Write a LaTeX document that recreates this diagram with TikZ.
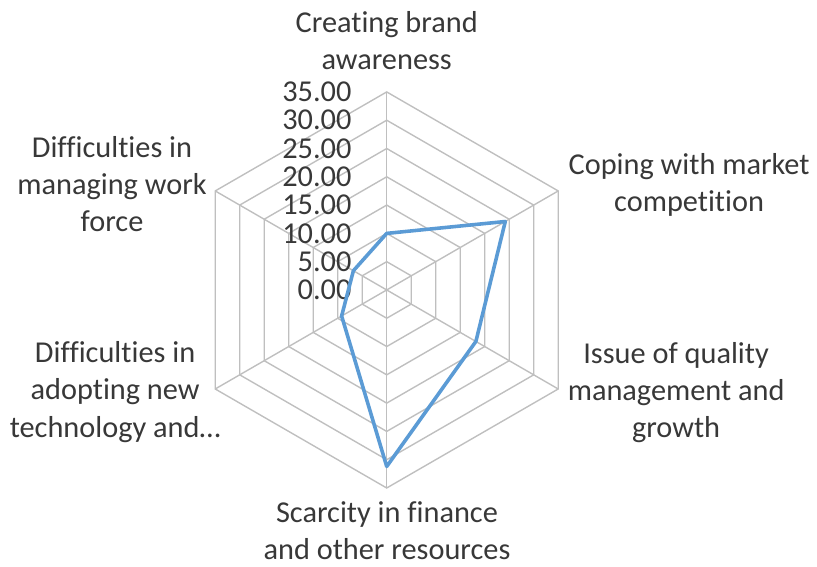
\documentclass[tikz,border=0pt]{standalone}
\usepackage{fontspec}
\setmainfont{Carlito}[Ligatures=NoCommon]
\definecolor{gridgray}{RGB}{191,191,191}
\definecolor{serieblue}{RGB}{91,155,213}
\definecolor{labelgray}{RGB}{56,56,56}

\begin{document}
\begin{tikzpicture}
  [every node/.style={text=labelgray,font=\fontsize{30.5}{37.5}\selectfont},
   axislabel/.style={align=center,anchor=base,inner sep=0pt},
   ticklabel/.style={anchor=east,inner sep=0pt},
   grid/.style={draw=gridgray,line width=1.4pt},
   serie/.style={draw=serieblue,line width=3.6pt,line join=round}]
\useasboundingbox (-13.67,-9.79) rectangle (15.21,10.25);

\foreach \r in {1,...,7}
  \draw [grid] (90:\r) -- (30:\r) -- (-30:\r) -- (-90:\r)
               -- (-150:\r) -- (150:\r) -- cycle;
\foreach \a in {90,30,-30,-90,-150,150}
  \draw [grid] (0,0) -- (\a:7);

\foreach \v [count=\r from 0] in {0.00,5.00,10.00,15.00,20.00,25.00,30.00,35.00}
  \node [ticklabel] (tick\r) at (-1.24,\r) {\v};

\node [axislabel] (brand)    at (0,7.78)      {Creating brand\\awareness};
\node [axislabel] (coping)   at (10.69,2.76)  {Coping with market\\competition};
\node [axislabel] (quality)  at (10.23,-5.23) {Issue of quality\\management and\\growth};
\node [axislabel] (scarcity) at (0.01,-9.54)  {Scarcity in finance\\and other resources};
\node [axislabel] (adopting) at (-9.60,-5.20) {Difficulties in\\adopting new\\technology and\dots};
\node [axislabel] (managing) at (-9.71,2.05)  {Difficulties in\\managing work\\force};

\coordinate (p1) at (90:2);
\coordinate (p2) at (30:4.84);
\coordinate (p3) at (-30:3.64);
\coordinate (p4) at (-90:6.24);
\coordinate (p5) at (-150:1.84);
\coordinate (p6) at (150:1.36);
\draw [serie] (p1) -- (p2) -- (p3) -- (p4) -- (p5) -- (p6) -- cycle;
\end{tikzpicture}
\end{document}
